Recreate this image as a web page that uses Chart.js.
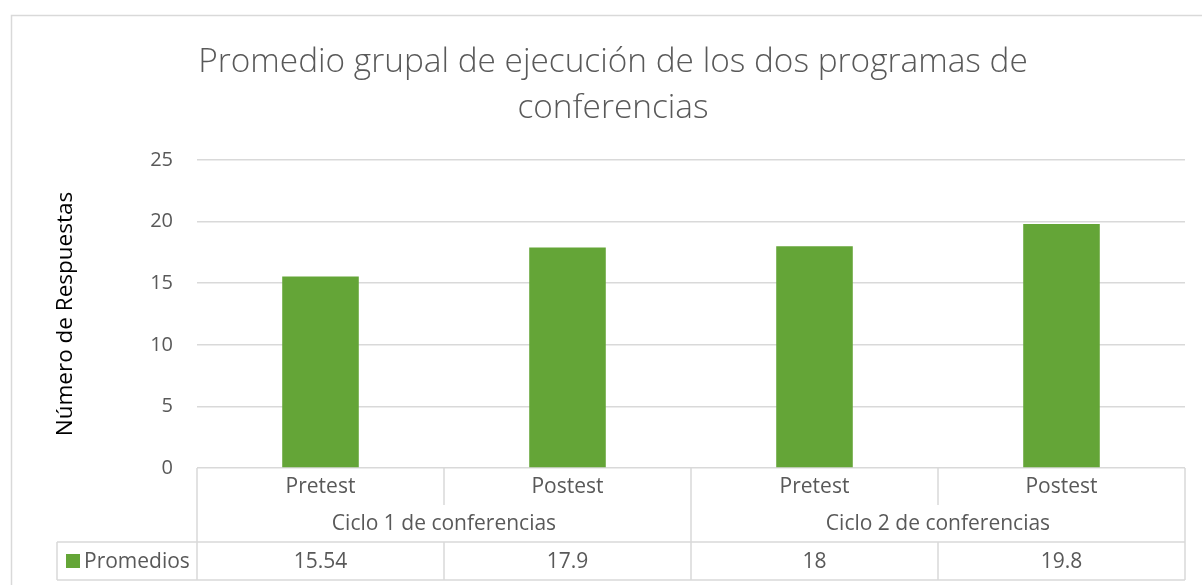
<!DOCTYPE html>
<html>
<head>
<meta charset="utf-8">
<script src="https://cdn.jsdelivr.net/npm/chart.js@4.4.0/dist/chart.umd.min.js"></script>
<style>
	body { margin: 0; background: #ffffff; }
	#wrap { width: 1202px; height: 585px; }
</style>
</head>
<body>
<div id="wrap"><canvas id="chart" width="1202" height="585"></canvas></div>
<script>
// Data
const titleLines = ["Promedio grupal de ejecución de los dos programas de", "conferencias"];
const phases = ["Pretest", "Postest", "Pretest", "Postest"];
const groups = ["Ciclo 1 de conferencias", "Ciclo 2 de conferencias"];
const seriesName = "Promedios";
const promedios = [15.54, 17.9, 18, 19.8];
const yAxisTitle = "Número de Respuestas";

const green = "#64a537";
const lineColor = "#d9d9d9";
const textGray = "#595959";
const font = "'Open Sans', 'Noto Sans', sans-serif";

// frame, title and the data table under the plot
const tablePlugin = {
	id: "dataTable",
	beforeDraw: (chart) => {
		const ctx = chart.ctx;
		ctx.save();
		ctx.fillStyle = "#ffffff";
		ctx.fillRect(0, 0, chart.width, chart.height);
		ctx.strokeStyle = lineColor;
		ctx.lineWidth = 1.5;
		ctx.strokeRect(11.5, 15.5, chart.width + 20, chart.height + 20);
		ctx.restore();
	},
	afterDraw: (chart) => {
		const ctx = chart.ctx;
		const area = chart.chartArea;
		const x = chart.scales.x;
		const n = phases.length;
		const w = (area.right - area.left) / n;
		const edge = (i) => area.left + i * w;
		const top = area.bottom;
		const row1 = top + 37;
		const row2 = top + 74;
		const row3 = top + 112;
		const legendLeft = 57;

		ctx.save();

		// title
		ctx.fillStyle = textGray;
		ctx.font = "300 33.4px " + font;
		ctx.textAlign = "center";
		ctx.textBaseline = "middle";
		ctx.fillText(titleLines[0], 613, 62);
		ctx.fillText(titleLines[1], 613, 108);

		// table lines
		ctx.strokeStyle = lineColor;
		ctx.lineWidth = 1.5;
		const line = (x1, y1, x2, y2) => {
			ctx.beginPath();
			ctx.moveTo(x1, y1);
			ctx.lineTo(x2, y2);
			ctx.stroke();
		};
		line(legendLeft, row2, area.right, row2);
		line(legendLeft, row3, area.right, row3);
		line(legendLeft, row2, legendLeft, row3);
		for (let i = 0; i <= n; i++) {
			if (i % 2 === 0) {
				line(edge(i), top, edge(i), row3);
			} else {
				line(edge(i), top, edge(i), row1);
				line(edge(i), row2, edge(i), row3);
			}
		}

		// texts
		ctx.fillStyle = textGray;
		ctx.font = "21px " + font;
		ctx.textAlign = "center";
		ctx.textBaseline = "middle";
		phases.forEach((p, i) => {
			const cx = x.getPixelForValue(i);
			ctx.fillText(p, cx, (top + row1) / 2 + 1);
			ctx.fillText(String(promedios[i]), cx, (row2 + row3) / 2 + 1);
		});
		groups.forEach((g, j) => {
			const cx = (edge(j * 2) + edge(j * 2 + 2)) / 2;
			ctx.fillText(g, cx, (row1 + row2) / 2 + 1);
		});

		// legend key
		ctx.fillStyle = green;
		ctx.fillRect(66, 554, 14, 14);
		ctx.fillStyle = textGray;
		ctx.textAlign = "left";
		ctx.fillText(seriesName, 84, (row2 + row3) / 2 + 1);

		ctx.restore();
	},
};

new Chart(document.getElementById("chart"), {
	type: "bar",
	data: {
		labels: phases,
		datasets: [
			{
				label: seriesName,
				data: promedios,
				backgroundColor: green,
				categoryPercentage: 1,
				barPercentage: 0.31,
			},
		],
	},
	options: {
		responsive: false,
		animation: false,
		layout: {
			padding: { left: 0, right: 17, top: 160, bottom: 117 },
		},
		plugins: {
			legend: { display: false },
			tooltip: { enabled: false },
		},
		scales: {
			x: {
				display: false,
			},
			y: {
				min: 0,
				max: 25,
				afterFit: (scale) => {
					scale.width = 197;
				},
				border: { display: false },
				grid: {
					color: lineColor,
					lineWidth: 1.5,
					drawTicks: false,
				},
				ticks: {
					stepSize: 5,
					padding: 24,
					color: textGray,
					font: { family: font, size: 20 },
				},
				title: {
					display: true,
					text: yAxisTitle,
					color: "#000000",
					padding: { top: 52, bottom: 0 },
					font: { family: font, size: 22.5 },
				},
			},
		},
	},
	plugins: [tablePlugin],
});
</script>
</body>
</html>
